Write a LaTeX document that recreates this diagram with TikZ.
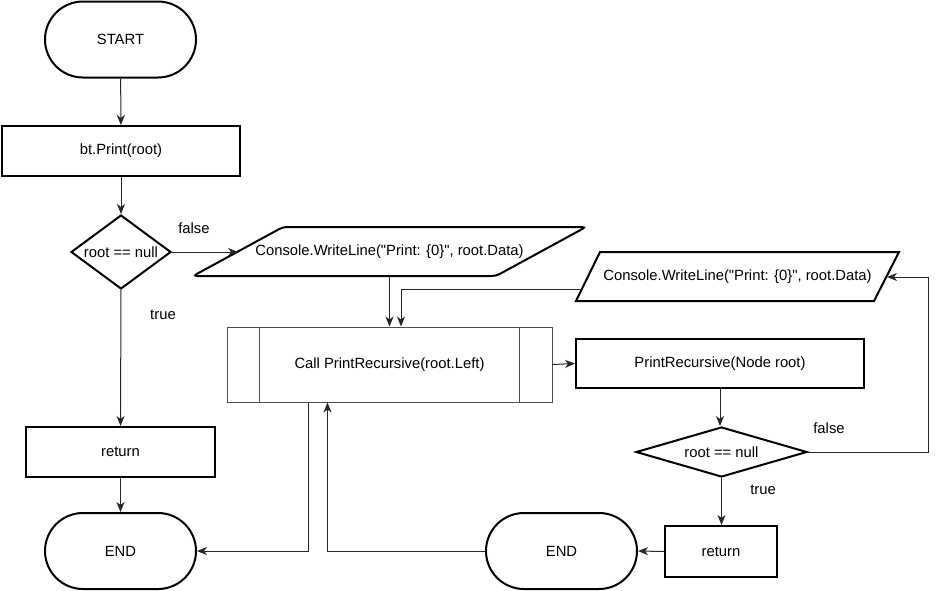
\documentclass[tikz,border=0pt]{standalone}
\usepackage{fontspec}
\newfontfamily\lsans{Liberation Sans}
\usetikzlibrary{arrows.meta,shapes.geometric,calc}
\tikzset{
  term/.style={draw, line width=2pt, rounded corners=38pt, minimum width=151, minimum height=76, fill=white},
  pbox/.style={draw, line width=2pt, fill=white, inner sep=0pt},
  decision/.style={draw, line width=2pt, shape=diamond, inner sep=0pt, fill=white},
  subproc/.style={draw=black!70, line width=1pt, fill=white, inner sep=0pt},
  conn/.style={draw=black!85, line width=1pt, -{Stealth[length=10pt,width=8pt,inset=3pt]}},
  lbl/.style={inner sep=0pt}
}
\begin{document}
\begin{tikzpicture}[x=1pt,y=-1pt,font=\lsans\fontsize{14.8}{17}\selectfont]
\useasboundingbox (0,0) rectangle (938,590);

% left column
\node[term] (start) at (120.5,39.5) {START};
\node[pbox, minimum width=238, minimum height=50] (print) at (121,151) {bt.Print(root)};
\node[decision, minimum width=100, minimum height=74, label={center:root == null}] (d1) at (121,252) {};
\node[pbox, minimum width=189, minimum height=50] (ret1) at (120.5,452) {return};
\node[term] (end1) at (120.5,551) {END};

% parallelogram 1
\coordinate (p1bl) at (193,276);
\coordinate (p1tl) at (283,227);
\coordinate (p1tr) at (586,227);
\coordinate (p1br) at (496,276);
\draw[line width=2pt, rounded corners=4pt, fill=white] (p1bl) -- (p1tl) -- (p1tr) -- (p1br) -- cycle;
\node (p1) at (389.5,251.5) {Console.WriteLine("Print: \{0\}", root.Data)};
\coordinate (p1w) at (238,252);
\coordinate (p1s) at (389.5,276);

% parallelogram 2
\coordinate (p2bl) at (576,301);
\coordinate (p2tl) at (600,252);
\coordinate (p2tr) at (899,252);
\coordinate (p2br) at (874,301);
\draw[line width=2pt, fill=white] (p2bl) -- (p2tl) -- (p2tr) -- (p2br) -- cycle;
\node (p2) at (737.5,276.5) {Console.WriteLine("Print: \{0\}", root.Data)};
\coordinate (p2w) at (582,289);
\coordinate (p2e) at (887,277);

% predefined process
\node[subproc, minimum width=325, minimum height=75] (proc) at (389.5,364.5) {Call PrintRecursive(root.Left)};
\draw[draw=black!70, line width=1pt] ([xshift=32.5]proc.north west) -- ([xshift=32.5]proc.south west);
\draw[draw=black!70, line width=1pt] ([xshift=-33]proc.north east) -- ([xshift=-33]proc.south east);

% right column
\node[pbox, minimum width=288, minimum height=49] (prn) at (720,363.5) {PrintRecursive(Node root)};
\node[decision, minimum width=171, minimum height=50, label={center:root == null}] (d2) at (721.5,452) {};
\node[pbox, minimum width=112, minimum height=51] (ret2) at (721,551.5) {return};
\node[term] (end2) at (561.5,551) {END};

% labels
\node[lbl] (f1) at (194,228) {false};
\node[lbl] (t1) at (163,315) {true};
\node[lbl] (f2) at (829,428) {false};
\node[lbl] (t2) at (763,490) {true};

% connectors
\draw[conn] (start) -- (print);
\draw[conn] (print) -- (d1);
\draw[conn] (d1.east) -- (p1w);
\draw[conn] (d1.south) -- (ret1.north);
\draw[conn] (ret1) -- (end1);
\draw[conn] (p1s) -- (p1s |- proc.north);
\draw[conn] (p2w) -| ([xshift=11.5]proc.north);
\draw[conn] (proc.east) -- (prn.west);
\draw[conn] (prn.south) -- (prn.south |- d2.north);
\draw[conn] (d2.east) -- ++(120.5,0) |- (p2e);
\draw[conn] (d2.south) -- (d2.south |- ret2.north);
\draw[conn] (ret2.west) -- (end2.east);
\draw[conn] (end2.west) -| ([xshift=-62]proc.south);
\draw[conn] ([xshift=-81.5]proc.south) |- (end1.east);
\end{tikzpicture}
\end{document}
